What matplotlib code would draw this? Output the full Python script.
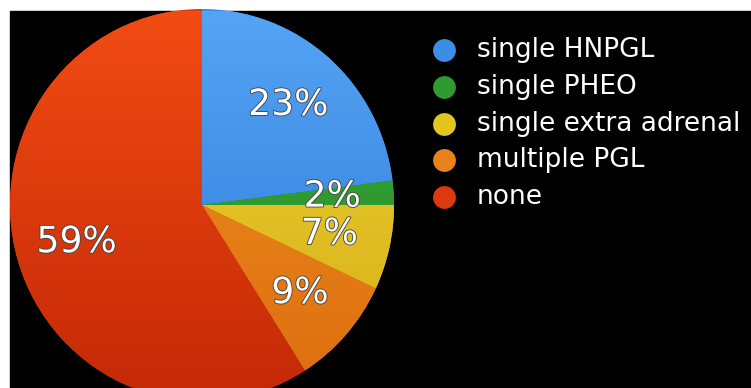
"""
Pie chart of tumour presentation, black background with gradient wedges
"""
import numpy as np
import matplotlib
matplotlib.use('Agg')
import matplotlib.pyplot as plt
import matplotlib.patheffects as pe
from matplotlib.colors import to_rgb

# ---------------------------------------------------------------------------
# data
labels = ['single HNPGL', 'single PHEO', 'single extra adrenal',
          'multiple PGL', 'none']
values = [23, 2, 7, 9, 59]

base_colors = ['#3a8ee6', '#2f9a30', '#e6c41e', '#e8821c', '#dc3a0e']
top_colors = ['#55a4f4', '#3aaa3a', '#f0d634', '#f2921f', '#f24c14']
bottom_colors = ['#2a78d8', '#268a26', '#d4ac16', '#dc6e10', '#c42806']
# ---------------------------------------------------------------------------

W, H = 751, 388
fig = plt.figure(figsize=(W / 100, H / 100), dpi=100, facecolor='white')

# black panel, pie radius 192 px across and 196 px down, centre at (202, 205)
left, top = 10, 11
cx, cy, rx, ry = 202, 205, 192, 196
ax = fig.add_axes([left / W, 0, (W - left) / W, (H - top) / H])
ax.set_facecolor('black')

wedges, texts, autotexts = ax.pie(
    values, colors=base_colors, startangle=90, counterclock=False,
    autopct='%.0f%%', pctdistance=0.68,
    wedgeprops=dict(linewidth=0),
    textprops=dict(color='white', fontsize=26, family='DejaVu Sans'))

# soft top-to-bottom shading in each wedge
shade = np.linspace(1, 0, 256)[:, None, None]
for w, c_top, c_bot in zip(wedges, top_colors, bottom_colors):
    c0 = np.array(to_rgb(c_top))
    c1 = np.array(to_rgb(c_bot))
    img = c1 + (c0 - c1) * shade
    im = ax.imshow(img, extent=(-1, 1, -1, 1), origin='upper',
                   aspect='auto', zorder=1.5)
    im.set_clip_path(w)

for t in autotexts:
    t.set_zorder(4)
    t.set_path_effects([pe.withStroke(linewidth=1.2, foreground='#404040')])

ax.set_aspect('auto')
ax.set_xlim((left - cx) / rx, (W - cx) / rx)
ax.set_ylim((cy - H) / ry, (cy - top) / ry)
ax.set_axis_off()
fig.patches.append(plt.Rectangle((left / W, 0), 1, (H - top) / H,
                                 transform=fig.transFigure,
                                 color='black', zorder=-1))

# legend drawn by hand
y0, dy = 50, 36.8
for i, (lab, col) in enumerate(zip(labels, base_colors)):
    y = 1 - (y0 + i * dy) / H
    ax.scatter([444 / W], [y], s=270, color=col, transform=fig.transFigure,
               clip_on=False, zorder=5, linewidths=0)
    fig.text(477 / W, y, lab, color='white', fontsize=19,
             family='DejaVu Sans', va='center', ha='left')

fig.savefig('out.png', dpi=100, facecolor='white')
